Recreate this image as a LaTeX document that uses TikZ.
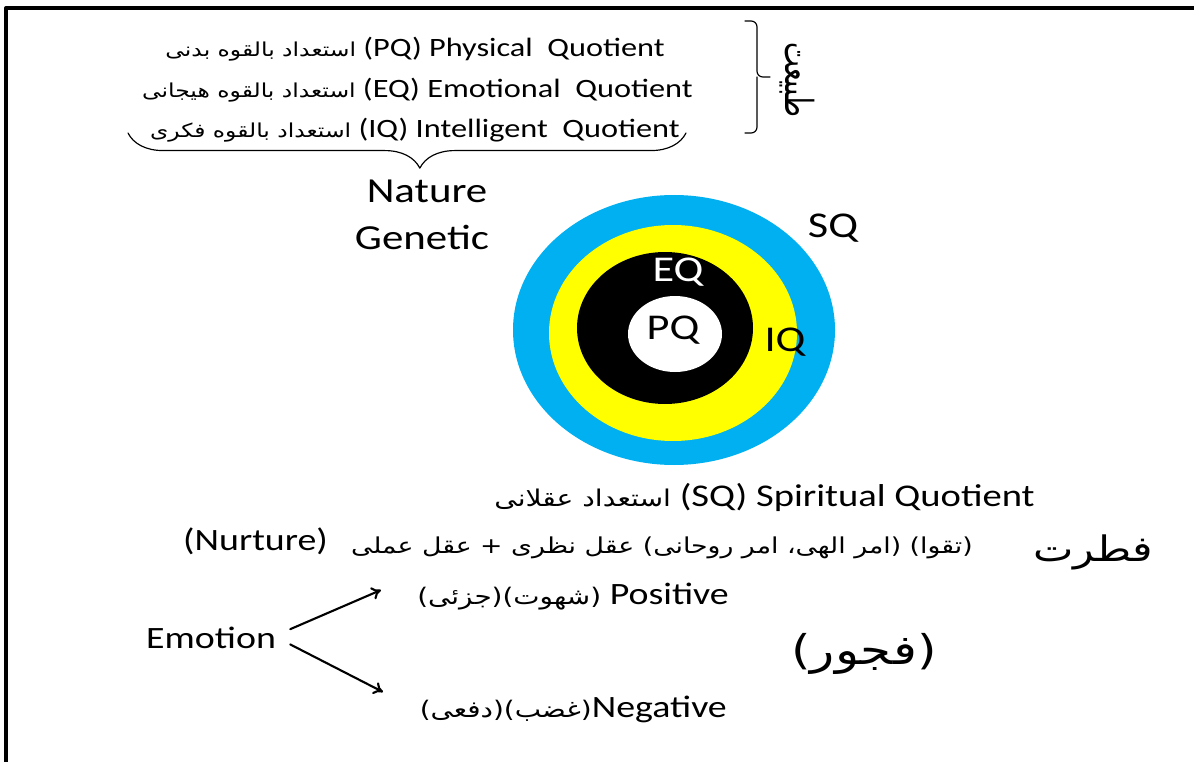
\documentclass[tikz,border=0pt]{standalone}
\usepackage{fontspec}
\usepackage{graphicx}
\setmainfont{Carlito}[FakeStretch=1.22]
\newfontfamily\arabicfont[Script=Arabic, FakeStretch=1.22]{DejaVu Sans}
\newfontfamily\arabicplain[Script=Arabic]{DejaVu Sans}
\TeXXeTstate=1
\usetikzlibrary{arrows.meta,decorations.pathreplacing}

% Persian text, right to left
\newcommand{\farsi}[2][16]{{\arabicfont\fontsize{#1}{#1}\selectfont\beginR #2\endR}}

\definecolor{sqblue}{RGB}{0,176,240}
\definecolor{iqyellow}{RGB}{255,255,0}

\begin{document}
\begin{tikzpicture}[x=0.03cm, y=-0.03cm, >={To[length=8pt,width=11pt]}, line cap=round, line join=round]

\tikzset{
  quot/.style={inner sep=0pt, anchor=base east, font=\fontsize{22.6}{27}\selectfont},
  big/.style={inner sep=0pt, anchor=base, font=\fontsize{30}{36}\selectfont},
  mid/.style={inner sep=0pt, anchor=base east, font=\fontsize{26.5}{32}\selectfont},
  ring/.style={inner sep=0pt, font=\fontsize{31}{36}\selectfont},
  bracebig/.style={decorate, decoration={brace, amplitude=#1, aspect=0.477}, line width=1pt},
  frameline/.style={line width=3.4pt, line cap=butt}
}

\useasboundingbox (0,0) rectangle (1194,762);

% ----------------------------
% FRAME
% ----------------------------
\draw[frameline] (1194,8) -- (6,8) -- (6,762);

% ----------------------------
% NATURE: PQ, EQ, IQ
% ----------------------------
\node[quot] (pq) at (665,57) {\farsi[16.4]{استعداد بالقوه بدنی} (PQ) Physical\ \ Quotient};
\node[quot] (eq) at (693,98) {\farsi[16.4]{استعداد بالقوه هیجانی} (EQ) Emotional\ \ Quotient};
\node[quot] (iq) at (680,138) {\farsi[16.4]{استعداد بالقوه فکری} (IQ) Intelligent\ \ Quotient};

% braces
\draw[bracebig=30pt] (686,133) -- (128,133);
\draw[line width=1pt, rounded corners=5pt] (745,21) -| (757,77) -- (770,77);
\draw[line width=1pt, rounded corners=5pt] (745,133) -| (757,77);
\node[rotate=-90, inner sep=0pt] (tabiat) at (797,80)
  {\scalebox{0.68}[1]{\arabicplain\fontsize{33}{33}\selectfont\beginR طبیعت\endR}};

\node[big] (nature) at (427,203) {Nature};
\node[big] (genetic) at (422,249) {Genetic};

% ----------------------------
% RINGS
% ----------------------------
\fill[sqblue] (674,330) ellipse [x radius=161, y radius=135];
\fill[iqyellow] (673,333) ellipse [x radius=124, y radius=108];
\fill[black] (665,328) ellipse [x radius=88, y radius=76];
\fill[white] (675,334) ellipse [x radius=47, y radius=38];

\node[ring] (sqlbl) at (833,228) {SQ};
\node[ring, text=white] (eqlbl) at (678,272) {EQ};
\node[ring] (pqlbl) at (673,330) {PQ};
\node[ring] (iqlbl) at (785,342) {IQ};

% ----------------------------
% NURTURE
% ----------------------------
\node[mid, font=\fontsize{27}{32}\selectfont] (sq) at (1035,506) {\farsi[19.7]{استعداد عقلانی} (SQ) Spiritual Quotient};
\node[mid, anchor=base west] (nurture) at (183,550) {(Nurture)};
\node[inner sep=0pt, anchor=base east] (aql) at (973,553) {\farsi[18.7]{(تقوا) (امر الهی، امر روحانی) عقل نظری + عقل عملی}};
\node[inner sep=0pt, anchor=base] (fetrat) at (1093,561) {\farsi[30]{فطرت}};

% ----------------------------
% EMOTION
% ----------------------------
\node[mid, anchor=base west] (emo) at (146,648) {Emotion};
\node[mid] (pos) at (729,604) {\farsi[19.5]{(شهوت)(جزئی)} Positive};
\node[mid] (neg) at (727,717) {\farsi[19.5]{(غضب)(دفعی)}Negative};
\node[inner sep=0pt, anchor=base] (fojur) at (864,664) {\farsi[35]{(فجور)}};

\coordinate (posTip) at (381,590);
\coordinate (negTip) at (383,692);
\draw[->, line width=1.8pt] ([xshift=12pt, yshift=7pt]emo.east) -- (posTip);
\draw[->, line width=1.8pt] ([xshift=12pt, yshift=-6pt]emo.east) -- (negTip);

\end{tikzpicture}
\end{document}
